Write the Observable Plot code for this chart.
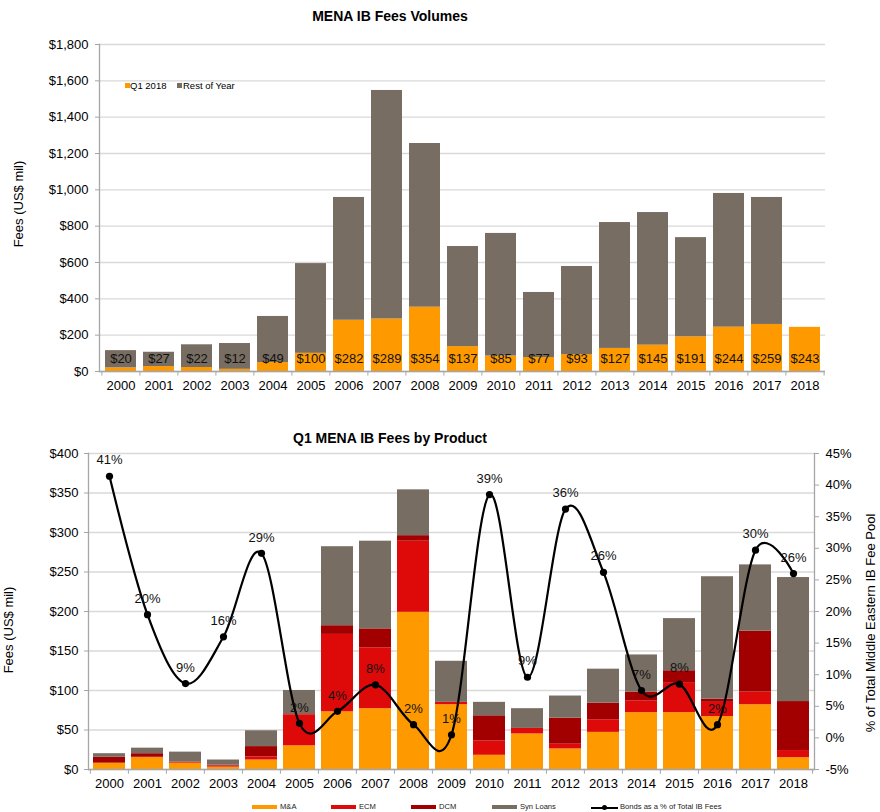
<!DOCTYPE html>
<html><head><meta charset="utf-8">
<script src="https://cdn.jsdelivr.net/npm/d3@7"></script>
<script src="https://cdn.jsdelivr.net/npm/@observablehq/plot@0.6"></script>
<style>
body{margin:0;background:#fff;font-family:"Liberation Sans",Arial,sans-serif;color:#000;}
#wrap{position:relative;width:880px;height:812px;overflow:hidden;}
.abs{position:absolute;white-space:nowrap;}
.title{font-weight:bold;font-size:14px;line-height:18px;text-align:center;left:0;width:780px;}
.ylab{font-size:13px;line-height:16px;transform:translate(-50%,-50%) rotate(-90deg);}
.leg1{font-size:9.5px;line-height:12px;}
.leg2{font-size:7.6px;line-height:10px;color:#222;}
.sw{position:absolute;}
svg{position:absolute;left:0;}
</style></head><body><div id="wrap"></div>
<script>
const years = ["2000","2001","2002","2003","2004","2005","2006","2007","2008","2009","2010","2011","2012","2013","2014","2015","2016","2017","2018"];
const q1Fees = [20,27,22,12,49,100,282,289,354,137,85,77,93,127,145,191,244,259,243];
const restOfYear = [95,79,125,142,254,494,676,1258,901,551,675,358,485,693,730,546,736,699,0];
const topSeries = ["Q1 2018","Rest of Year"];
const topTicks = [0,200,400,600,800,1000,1200,1400,1600,1800];

const products = ["M&A","ECM","DCM","Syn Loans"];
const maFees  = [8,15,8,3,12,30,73,77,199,82,18,45,26,47,72,72,67,82,15];
const ecmFees = [0,0.5,1,1.5,4,39,98,77,90,3,18,7,6,16,15,38,18,16,9];
const dcmFees = [7.5,4.5,0.5,1,13,1.5,11,24,7,0,32,0,33,21,11,15,4,77,62];
const synFees = [4.5,7,12.5,6.5,20,29.5,100,111,58,52,17,25,28,43,47,66,155,84,157];
const bondsPct = [41.4,19.5,8.6,16,29.2,2.3,4.2,8.4,2.1,0.5,38.5,9.6,36.2,26.2,7.5,8.5,2.1,29.7,26];
const bondsLabels = ["41%","20%","9%","16%","29%","2%","4%","8%","2%","1%","39%","9%","36%","26%","7%","8%","2%","30%","26%"];
const usdTicks = [0,50,100,150,200,250,300,350,400];
const pctTicks = [-5,0,5,10,15,20,25,30,35,40,45];

const orange = "#FF9900", gray = "#786D62", red = "#DE0A0A", darkRed = "#A20000";
const axisCol = "#A6A6A6", gridCol = "#D9D9D9";
const font = "Liberation Sans, Arial, sans-serif";
const W = 880;
const wrap = document.getElementById("wrap");

function addDiv(cls, html, style){ const d=document.createElement("div"); d.className="abs "+cls; d.innerHTML=html; Object.assign(d.style, style); wrap.appendChild(d); return d; }

// ---------- Top chart ----------
addDiv("title","MENA IB Fees Volumes",{top:"7px"});
const topRows = years.flatMap((y,i)=>[
  {year:y, series:topSeries[0], value:q1Fees[i]},
  {year:y, series:topSeries[1], value:restOfYear[i]}
]);
const ml1=99, mr1=55;
const step1=(W-ml1-mr1)/years.length;
const fmt = d3.format(",");
const topPlot = Plot.plot({
  width:W, height:372, marginTop:14, marginBottom:31, marginLeft:ml1, marginRight:mr1,
  style:{fontFamily:font, fontSize:"13px", color:"#000", background:"transparent", overflow:"visible"},
  x:{domain:years, paddingInner:0.19, paddingOuter:0.095, align:0.5},
  y:{domain:[0,1800]},
  color:{domain:topSeries, range:[orange, gray]},
  marks:[
    Plot.gridY(topTicks,{stroke:gridCol, strokeOpacity:1, strokeWidth:1.3}),
    Plot.barY(topRows,{x:"year", y:"value", fill:"series"}),
    Plot.ruleY([0],{stroke:axisCol, strokeWidth:1.3}),
    Plot.frame({anchor:"left", stroke:axisCol, strokeWidth:1.3}),
    Plot.ruleX(years,{x:d=>d, y1:0, y2:-25, dx:-step1/2, stroke:axisCol}),
    Plot.ruleX([years[years.length-1]],{x:d=>d, y1:0, y2:-25, dx:step1/2, stroke:axisCol}),
    Plot.axisY(topTicks,{anchor:"left", tickSize:4, tickPadding:7, stroke:axisCol, fill:"#000", tickFormat:d=>"$"+fmt(d), label:null, fontSize:13}),
    Plot.axisX({tickSize:0, tickPadding:9, label:null, fill:"#000", fontSize:13}),
    Plot.text(years,{x:d=>d, y:0, dy:-13, text:(d,i)=>"$"+q1Fees[i], fill:"#111", fontSize:13})
  ]
});
topPlot.style.top="30px";
wrap.appendChild(topPlot);
addDiv("ylab","Fees (US$ mil)",{left:"19px", top:"204px"});
// top legend
addDiv("leg1",'<span class="sw" style="left:0;top:3px;width:5px;height:5px;background:'+orange+'"></span><span style="margin-left:5px">Q1 2018</span>',{left:"125px", top:"80px"});
addDiv("leg1",'<span class="sw" style="left:0;top:3px;width:5px;height:5px;background:'+gray+'"></span><span style="margin-left:6px">Rest of Year</span>',{left:"177px", top:"80px"});

// ---------- Bottom chart ----------
addDiv("title","Q1 MENA IB Fees by Product",{top:"429px"});
const prodVals = [maFees, ecmFees, dcmFees, synFees];
const prodRows = years.flatMap((y,i)=>products.map((p,k)=>({year:y, product:p, value:prodVals[k][i]})));
const pctToUsd = p => (p+5)*8;
const ml2=88, mr2=66;
const step2=(W-ml2-mr2)/years.length;
const botPlot = Plot.plot({
  width:W, height:356, marginTop:10, marginBottom:30, marginLeft:ml2, marginRight:mr2,
  style:{fontFamily:font, fontSize:"13px", color:"#000", background:"transparent", overflow:"visible"},
  x:{domain:years, paddingInner:0.17, paddingOuter:0.085, align:0.5},
  y:{domain:[0,400]},
  color:{domain:products, range:[orange, red, darkRed, gray]},
  marks:[
    Plot.gridY(usdTicks,{stroke:gridCol, strokeOpacity:1, strokeWidth:1.3}),
    Plot.barY(prodRows,{x:"year", y:"value", fill:"product"}),
    Plot.ruleY([0],{stroke:axisCol, strokeWidth:1.3}),
    Plot.frame({anchor:"left", stroke:axisCol, strokeWidth:1.3}),
    Plot.frame({anchor:"right", stroke:axisCol, strokeWidth:1.3}),
    Plot.ruleX(years,{x:d=>d, y1:0, y2:-6, dx:-step2/2, stroke:axisCol}),
    Plot.ruleX([years[years.length-1]],{x:d=>d, y1:0, y2:-6, dx:step2/2, stroke:axisCol}),
    Plot.axisY(usdTicks,{anchor:"left", tickSize:4, tickPadding:6, stroke:axisCol, fill:"#000", tickFormat:d=>"$"+d, label:null, fontSize:13}),
    Plot.axisY(pctTicks.map(pctToUsd),{anchor:"right", tickSize:4, tickPadding:7, stroke:axisCol, fill:"#000", tickFormat:d=>(d/8-5)+"%", label:null, fontSize:13}),
    Plot.axisX({tickSize:0, tickPadding:9.5, label:null, fill:"#000", fontSize:13}),
    Plot.line(years,{x:d=>d, y:(d,i)=>pctToUsd(bondsPct[i]), curve:"cardinal", stroke:"#000", strokeWidth:2.2}),
    Plot.dot(years,{x:d=>d, y:(d,i)=>pctToUsd(bondsPct[i]), r:3.6, fill:"#000"}),
    Plot.text(years,{x:d=>d, y:(d,i)=>pctToUsd(bondsPct[i]), dy:-16, text:(d,i)=>bondsLabels[i], fill:"#111", fontSize:13})
  ]
});
botPlot.style.top="443px";
wrap.appendChild(botPlot);
addDiv("ylab","Fees (US$ mil)",{left:"9px", top:"630px"});
addDiv("ylab","% of Total Middle Eastern IB Fee Pool",{left:"871px", top:"623px"});

// bottom legend
const leg2 = [
  {x:252, label:"M&A", color:orange},
  {x:331, label:"ECM", color:red},
  {x:411, label:"DCM", color:darkRed},
  {x:492, label:"Syn Loans", color:gray}
];
leg2.forEach(l=>{
  addDiv("leg2",'<span class="sw" style="left:0;top:3px;width:25px;height:4px;background:'+l.color+'"></span><span style="margin-left:28px">'+l.label+'</span>',{left:l.x+"px", top:"802px"});
});
addDiv("leg2",'<span class="sw" style="left:0;top:4.5px;width:27px;height:2px;background:#000"></span><span class="sw" style="left:11px;top:3px;width:5px;height:5px;border-radius:50%;background:#000"></span><span style="margin-left:29px">Bonds as a % of Total IB Fees</span>',{left:"591px", top:"802px"});
</script>
</body></html>
